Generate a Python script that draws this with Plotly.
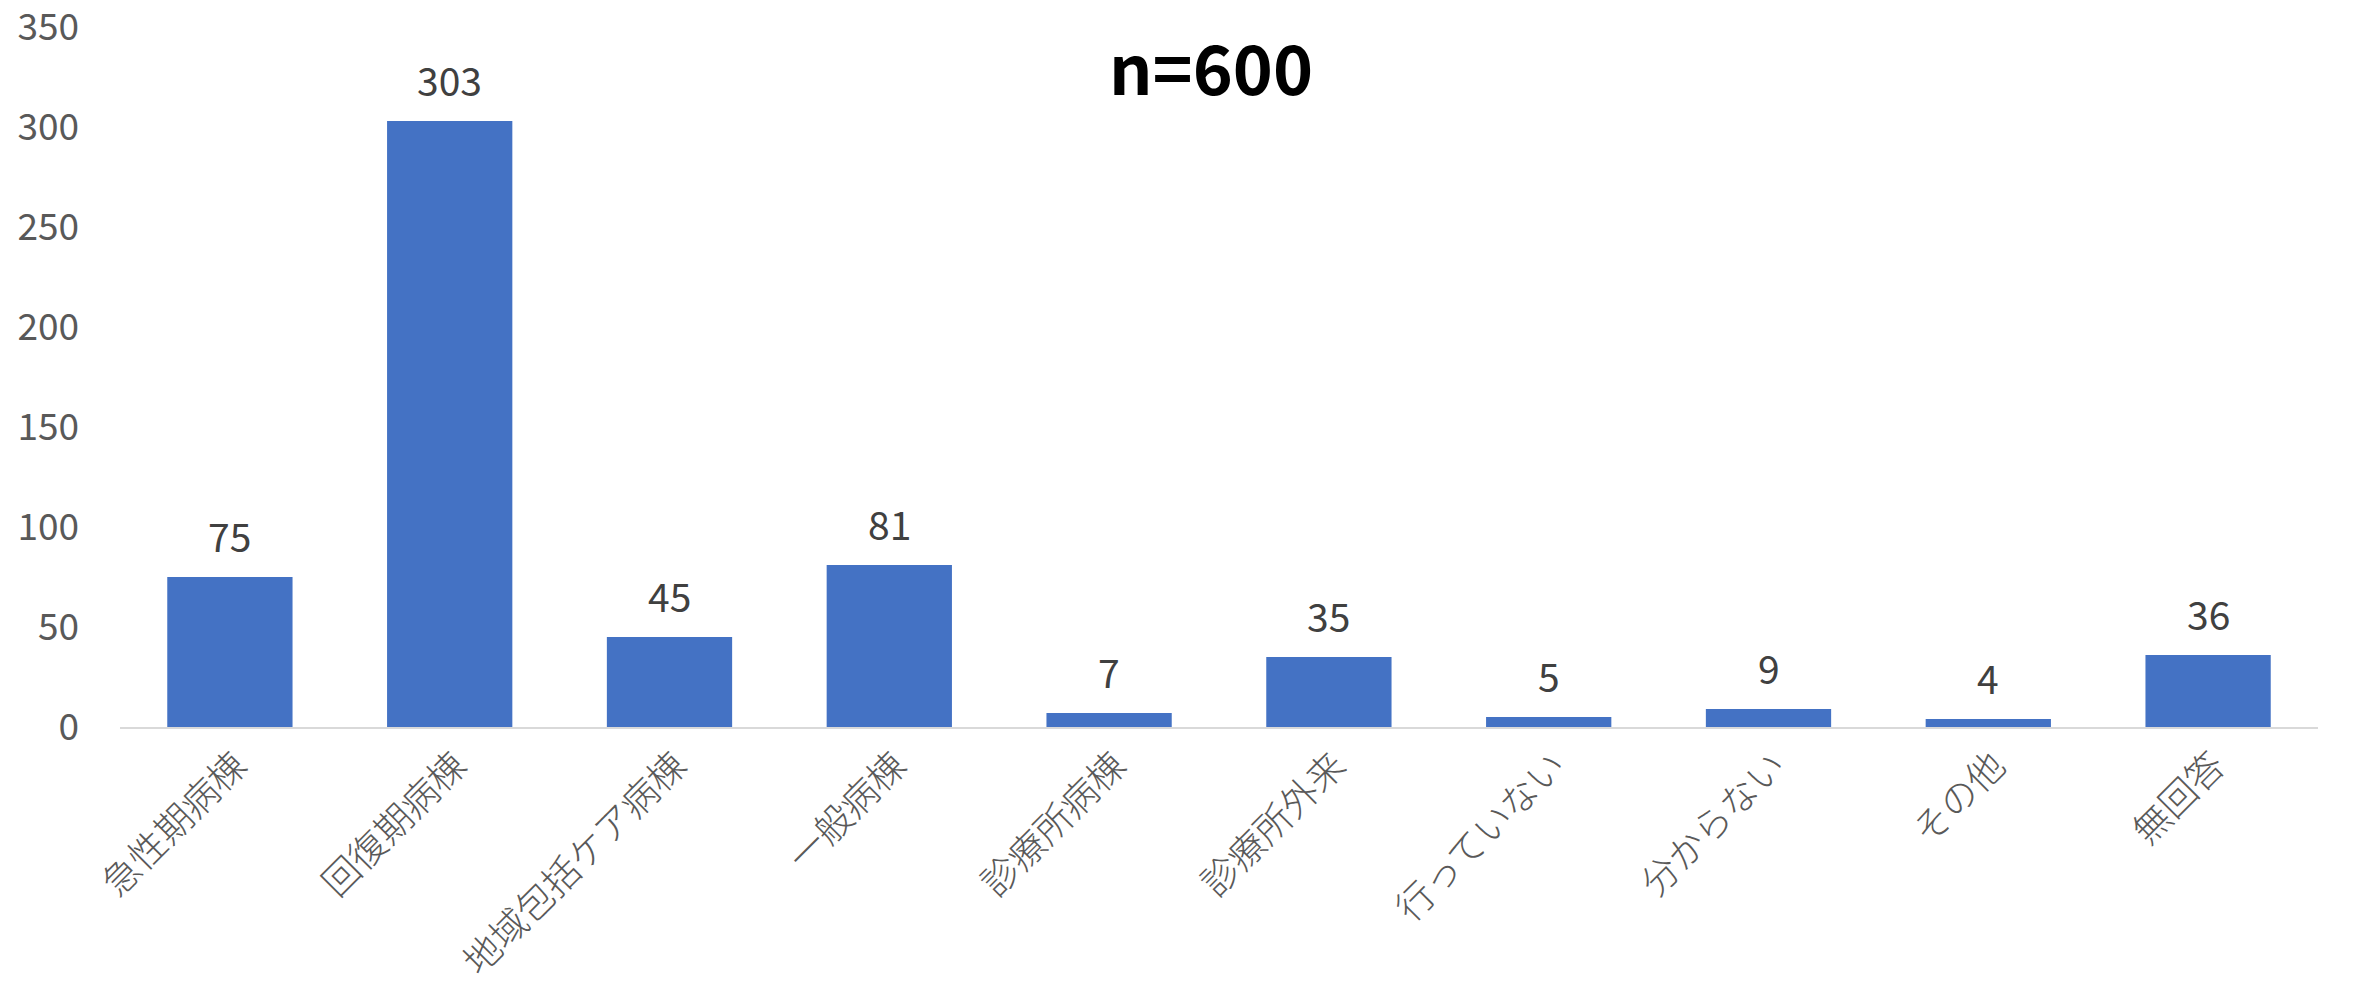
import plotly.graph_objects as go

categories = ["急性期病棟", "回復期病棟", "地域包括ケア病棟", "一般病棟", "診療所病棟",
              "診療所外来", "行っていない", "分からない", "その他", "無回答"]
values = [75, 303, 45, 81, 7, 35, 5, 9, 4, 36]
title_text = "n=600"
y_ticks = [0, 50, 100, 150, 200, 250, 300, 350]

FONT = "Noto Sans CJK JP"

fig = go.Figure(go.Bar(
    x=categories, y=values,
    marker=dict(color="#4472C4", line=dict(width=0)),
))

label_annotations = [
    dict(x=c, y=v, xref="x", yref="y", text=str(v), showarrow=False,
         yanchor="bottom", xanchor="center", yshift=12,
         font=dict(family=FONT, size=39, color="#404040"))
    for c, v in zip(categories, values)
]

fig.update_layout(
    width=2338, height=972,
    margin=dict(l=112, r=28, t=19, b=253, autoexpand=False),
    paper_bgcolor="white", plot_bgcolor="white",
    bargap=0.43, showlegend=False,
    font=dict(family=FONT),
    annotations=label_annotations + [
        dict(text=f"<b>{title_text}</b>", xref="paper", yref="paper",
             x=0.4964, y=0.9457, xanchor="center", yanchor="middle",
             showarrow=False, font=dict(family=FONT, size=68, color="black"))],
)
fig.update_xaxes(showline=True, linecolor="#d9d9d9", linewidth=2, ticks="",
                 tickangle=-45, automargin=False, ticklabelstandoff=0,
                 ticklabelshift=6,
                 tickfont=dict(family=FONT, size=37, color="#595959", weight=300),
                 showgrid=False)
fig.update_yaxes(range=[0, 350], tickvals=y_ticks, showgrid=False, zeroline=False,
                 showline=False, ticks="", ticklabelstandoff=40, automargin=False,
                 ticklabeloverflow="allow",
                 tickfont=dict(family=FONT, size=37, color="#595959"))

fig.write_html("out.html")
